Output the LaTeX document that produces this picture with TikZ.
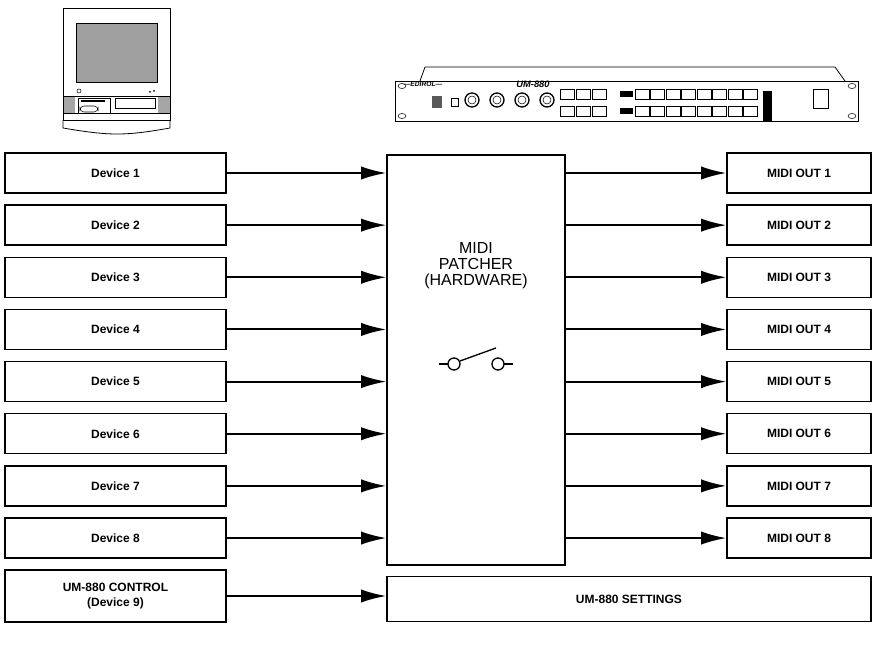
\documentclass[tikz,border=0pt]{standalone}
\usepackage{fontspec}
\setmainfont{Liberation Sans}
\usetikzlibrary{arrows.meta}
\begin{document}
\begin{tikzpicture}[x=0.75pt,y=-0.75pt,
 box/.style={draw,line width=1pt,minimum height=30pt,inner sep=0pt,font=\bfseries\small,align=center},
 lb/.style={box,minimum width=165.75pt},
 rb/.style={box,minimum width=108pt},
 arr/.style={line width=1.5pt,-{Latex[length=19pt,width=10pt]}}]
\useasboundingbox (0,0) rectangle (876,645);
% computer
\draw[line width=0.6pt] (63,8) rectangle (170,120);
\draw[line width=0.6pt] (63,120) -- (63,128) .. controls (110,136) and (125,136) .. (170,128) -- (170,120);
\fill[gray!75,draw=black,line width=0.6pt] (76,23) rectangle (157,82);
\draw (79,91) circle (2);
\fill[gray!70] (63,96) rectangle (75,113); \fill[gray!70] (158,96) rectangle (170,113);
\draw (63,96) rectangle (170,113);
\draw (78,98) rectangle (110,113); \draw (115,98) rectangle (155,108);
\draw[rounded corners=3pt] (80,106) rectangle (98,112);
\fill (81,100) rectangle (105,102);
\fill (150,92) circle (1); \fill (154,91) circle (1);
% rack unit
\draw[line width=0.6pt] (425,67) -- (835,67) -- (845,81);
\draw[line width=0.6pt] (425,67) -- (420,81);
\draw[line width=0.6pt] (395,81) rectangle (858,121);
\foreach \x in {402,852}{\draw (\x,86) ellipse (4 and 2.5); \draw (\x,116) ellipse (4 and 2.5);}
\node[font=\bfseries\itshape\tiny] at (423,84) {—EDIROL—};
\node[font=\bfseries\itshape\scriptsize] at (533,84) {UM-880};
\fill[gray!70!black] (432,96) rectangle (442,108); \draw (451,98) rectangle (458,106);
\foreach \x in {472,497,522,547}{\draw[line width=1pt] (\x,100) circle (7); \draw (\x,100) circle (4);}
\foreach \x in {567,583,599}{\draw (\x-7,89) rectangle (\x+7,99); \draw (\x-7,106) rectangle (\x+7,116);}
\fill (620,91) rectangle (633,97); \fill (620,108) rectangle (633,114);
\foreach \i in {0,...,7}{\draw (635+\i*15.5,89) rectangle (649+\i*15.5,99); \draw (635+\i*15.5,106) rectangle (649+\i*15.5,116);}
\fill[black] (763,91) rectangle (772,121);
\draw (813,89) rectangle (828,108);
% patcher
\node[draw,line width=1pt,minimum width=133.5pt,minimum height=307.5pt] (p) at (476,360) {};
\node[font=\large,align=center,inner sep=0pt] at (476,266) {MIDI\\[-2pt]PATCHER\\[-2pt](HARDWARE)};
\draw[line width=1pt] (439,364) -- (448,364); \draw[line width=1pt] (454,364) circle (6);
\draw[line width=1pt] (460,361) -- (496,348); \draw[line width=1pt] (498,364) circle (6); \draw[line width=1pt] (504,364) -- (513,364);
% rows
\foreach \i in {1,...,8}{
 \pgfmathsetmacro\yy{173+(\i-1)*52.15}
 \node[lb] (d\i) at (115.5,\yy) {Device \i};
 \node[rb] (m\i) at (799,\yy) {MIDI OUT \i};
 \coordinate (pi\i) at (p.west |- d\i.east);
 \coordinate (po\i) at (p.east |- m\i.west);
 \draw[arr] (d\i.east) -- (pi\i);
 \draw[arr] (po\i) -- (m\i.west);
}
\node[lb,minimum height=39pt] (c) at (115.5,596) {UM-880 CONTROL\\(Device 9)};
\node[box,minimum width=363pt,minimum height=34pt] (s) at (629,599) {UM-880 SETTINGS};
\draw[arr] (c.east) -- (s.west |- c.east);
\end{tikzpicture}
\end{document}
